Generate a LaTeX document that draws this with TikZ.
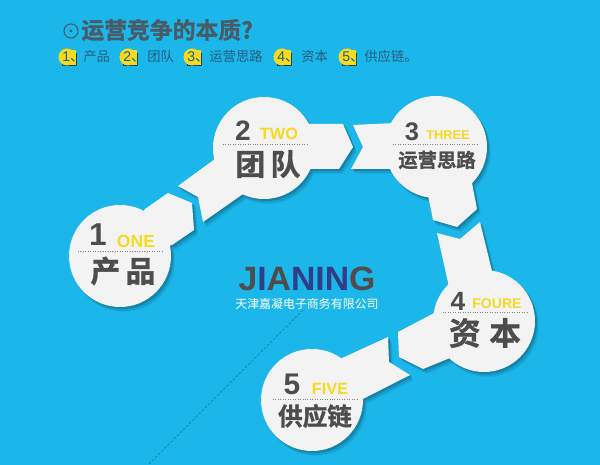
\documentclass[tikz,border=0pt]{standalone}
\usepackage{fontspec}
\setmainfont{Liberation Sans}
\newfontfamily\cjk{Noto Sans CJK SC}[BoldFont={Noto Sans CJK SC Bold},BoldFeatures={FakeBold=1.2}]
\definecolor{sky}{HTML}{1CB7EA}
\definecolor{paper}{HTML}{F3F3F3}
\definecolor{ink}{HTML}{4D4D4D}
\definecolor{gold}{HTML}{F6DA22}
\definecolor{navy}{HTML}{2F3E86}
\definecolor{slate}{HTML}{4A5B68}
\definecolor{rowink}{HTML}{245E80}
\tikzset{
    num/.style={font=\bfseries\fontsize{#1}{#1}\selectfont,text=ink,inner sep=0},
    eng/.style={font=\bfseries\fontsize{#1}{9}\selectfont,text=gold,inner sep=0},
    zh/.style={font=\cjk\bfseries\fontsize{#1}{#1}\selectfont,text=ink,inner sep=0},
    row/.style={font=\cjk\fontsize{7.6}{8}\selectfont,text=rowink,inner sep=0,anchor=west},
    tag/.style={font=\fontsize{8}{8}\selectfont,text=rowink,inner sep=0,anchor=west},
    rule/.style={densely dotted,line width=0.4pt,draw=gray},
}
% all white plates, one fill per piece
\newcommand{\plates}[1]{
    \fill[#1] (120,256) circle (51);
    \fill[#1] (264,148) circle (51);
    \fill[#1] (436,147) circle (51);
    \fill[#1] (484,321) circle (51);
    \fill[#1] (312,400) circle (51);
    \fill[#1] (145,209) -- (168,193) -- (192,203) -- (194,230) -- (172,245) -- (120,256) -- cycle;
    \fill[#1] (178,186) -- (215,159) -- (243,194) -- (203,222) -- (198,197) -- cycle;
    \fill[#1] (305,124) -- (343,124) -- (353,147) -- (339,169) -- (305,169) -- cycle;
    \fill[#1] (353,125) -- (395,123) -- (395,169) -- (351,169) -- (363,147) -- cycle;
    \fill[#1] (472,183) -- (477,209) -- (457,227) -- (433,220) -- (427,190) -- cycle;
    \fill[#1] (437,233) -- (460,239) -- (480,222) -- (493,275) -- (449,287) -- cycle;
    \fill[#1] (440,310) -- (398,332) -- (399,357) -- (423,369) -- (450,358) -- cycle;
    \fill[#1] (340,359) -- (388,337) -- (389,362) -- (410,375) -- (355,403) -- cycle;
}
% yellow number tag
\newcommand{\yellowtag}[3]{
    \fill[black!60!sky] (#1+4,#2-4) rectangle (#1+19,#2+9);
    \fill[gold] (#1+9,#2-7) rectangle (#1+18,#2+8);
    \fill[gold] (#1+9,#2) circle (8.5);
    \node[tag] (tag#3) at (#1+4,#2) {#3\cjk 、};
}
\begin{document}
\begin{tikzpicture}[x=0.02cm,y=-0.02cm]
    \useasboundingbox (0,0) rectangle (600,465);
    \fill[sky] (0,0) rectangle (600,465);

    %title
    \node[draw=slate,circle,line width=0.6pt,minimum size=8pt,inner sep=0] (mark) at (71,31) {};
    \fill[slate] (mark) circle (1.5);
    \node[zh=13,text=slate,anchor=west] (title) at (81,30) {运营竞争的本质?};

    %row
    \yellowtag{58}{57}{1}
    \yellowtag{119}{57}{2}
    \yellowtag{183}{57}{3}
    \yellowtag{273}{57}{4}
    \yellowtag{338}{57}{5}
    \node[row] (rowa) at (83,56) {产品};
    \node[row] (rowb) at (147,56) {团队};
    \node[row] (rowc) at (209,56) {运营思路};
    \node[row] (rowd) at (301,56) {资本};
    \node[row] (rowe) at (364,56) {供应链。};

    %fold line
    \coordinate (foldA) at (303,310);
    \coordinate (foldB) at (148,465);
    \draw[dash pattern=on 1.5pt off 1pt,line width=0.3pt,draw=black!35!sky] (foldA) -- (foldB);

    %plates and shadow
    \begin{scope}[shift={(4,5)}]
        \plates{black!6!sky}
    \end{scope}
    \begin{scope}[shift={(3,4)}]
        \plates{black!14!sky}
    \end{scope}
    \begin{scope}[shift={(2,2)}]
        \plates{black!28!sky}
    \end{scope}
    \plates{paper}

    %one
    \node[num=18] (numA) at (98,235) {1};
    \node[eng=10] (engA) at (136,241) {ONE};
    \draw[rule] (78,251) -- (163,251);
    \node[zh=17] (zhA) at (123,271) {产\hspace{3pt}品};

    %two
    \node[num=16] (numB) at (243,131) {2};
    \node[eng=9.3] (engB) at (279,134) {TWO};
    \draw[rule] (223,144) -- (308,144);
    \node[zh=17] (zhB) at (268,164) {团\hspace{3pt}队};

    %three
    \node[num=14.5] (numC) at (412,132) {3};
    \node[eng=7.3] (engC) at (448,135) {THREE};
    \draw[rule] (393,144) -- (478,144);
    \node[zh=11] (zhC) at (437,160) {运营思路};

    %four
    \node[num=15] (numD) at (458,301) {4};
    \node[eng=8] (engD) at (497,304) {FOURE};
    \draw[rule] (443,312) -- (528,312);
    \node[zh=18] (zhD) at (485,333) {资\hspace{5pt}本};

    %five
    \node[num=17] (numE) at (292,384) {5};
    \node[eng=9.3] (engE) at (330,389) {FIVE};
    \draw[rule] (273,399) -- (358,399);
    \node[zh=14] (zhE) at (315,416) {供应链};

    %company
    \node[font=\bfseries\fontsize{19.2}{19}\selectfont,text=ink,inner sep=0] (brand) at (307,279)
        {J\textcolor{navy}{I}A\textcolor{navy}{NIN}G};
    \node[font=\cjk\fontsize{6.8}{7}\selectfont,text=white,inner sep=0] (company) at (307,304)
        {天津嘉凝电子商务有限公司};
\end{tikzpicture}
\end{document}
